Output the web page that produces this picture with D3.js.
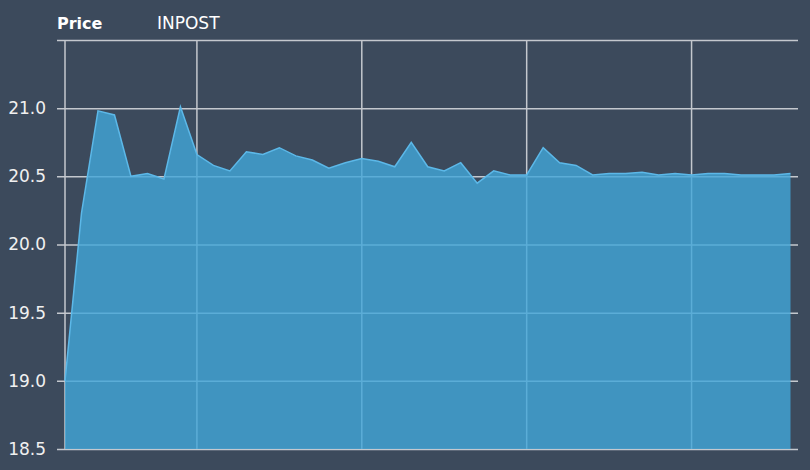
<!DOCTYPE html>
<html>
<head>
<meta charset="utf-8">
<script src="https://cdn.jsdelivr.net/npm/d3@7"></script>
<style>
  html, body { margin: 0; padding: 0; background: #3c4a5c; }
  svg { display: block; }
</style>
</head>
<body>
<div id="chart"></div>
<script>
// prices, one per step
var prices = [19.00, 20.23, 20.98, 20.95, 20.50, 20.52, 20.48, 21.01, 20.66, 20.58,
              20.54, 20.68, 20.66, 20.71, 20.65, 20.62, 20.56, 20.60, 20.63, 20.61,
              20.57, 20.75, 20.57, 20.54, 20.60, 20.45, 20.54, 20.51, 20.51, 20.71,
              20.60, 20.58, 20.51, 20.52, 20.52, 20.53, 20.51, 20.52, 20.51, 20.52,
              20.52, 20.51, 20.51, 20.51, 20.52];
var yTicks = [18.5, 19.0, 19.5, 20.0, 20.5, 21.0, 21.5];
var xTicks = [8, 18, 28, 38];
var title = "Price";
var seriesName = "INPOST";

var width = 810, height = 470;
var mLeft = 65, mRight = 790.5, mTop = 40, mBottom = 449, gridEnd = 798;

var svg = d3.select("#chart").append("svg")
    .attr("width", width)
    .attr("height", height);

svg.append("rect").attr("width", width).attr("height", height).attr("fill", "#3c4a5c");

var x = d3.scaleLinear().domain([0, prices.length - 1]).range([mLeft, mRight]);
var y = d3.scaleLinear().domain([18.5, 21.5]).range([mBottom, mTop]);

// horizontal grid + labels
var yAxis = d3.axisLeft(y)
    .tickValues(yTicks)
    .tickSize(-(gridEnd - mLeft))
    .tickPadding(19)
    .tickFormat(function(d) { return d === 21.5 ? "" : d3.format(".1f")(d); });

var gy = svg.append("g")
    .attr("transform", "translate(" + mLeft + ",0)")
    .call(yAxis);
gy.select(".domain").remove();
gy.selectAll(".tick line")
    .attr("x1", -8)
    .attr("stroke", "#c4c8ce")
    .attr("stroke-width", 1.5);
gy.selectAll(".tick text")
    .attr("fill", "#f0f0f0")
    .style("font-family", "DejaVu Sans, Verdana, sans-serif")
    .style("font-size", "17px");

// vertical grid
svg.append("g").selectAll("line")
    .data([0].concat(xTicks))
  .enter().append("line")
    .attr("x1", function(d) { return x(d); })
    .attr("x2", function(d) { return x(d); })
    .attr("y1", mTop)
    .attr("y2", mBottom)
    .attr("stroke", "#c4c8ce")
    .attr("stroke-width", 1.5);

// the area
var area = d3.area()
    .x(function(d, i) { return x(i); })
    .y0(mBottom)
    .y1(function(d) { return y(d); });

svg.append("path")
    .datum(prices)
    .attr("d", area)
    .attr("fill", "#41a6d9")
    .attr("fill-opacity", 0.8);

var line = d3.line()
    .x(function(d, i) { return x(i); })
    .y(function(d) { return y(d); });

svg.append("path")
    .datum(prices)
    .attr("d", line)
    .attr("fill", "none")
    .attr("stroke", "#5cb8e8")
    .attr("stroke-width", 1.5);

// header
svg.append("text")
    .attr("x", 57).attr("y", 29)
    .attr("fill", "#ffffff")
    .style("font-family", "DejaVu Sans, Verdana, sans-serif")
    .style("font-size", "16px")
    .style("font-weight", "bold")
    .text(title);

svg.append("text")
    .attr("x", 157).attr("y", 29)
    .attr("fill", "#ffffff")
    .style("font-family", "DejaVu Sans, Verdana, sans-serif")
    .style("font-size", "17px")
    .text(seriesName);
</script>
</body>
</html>
